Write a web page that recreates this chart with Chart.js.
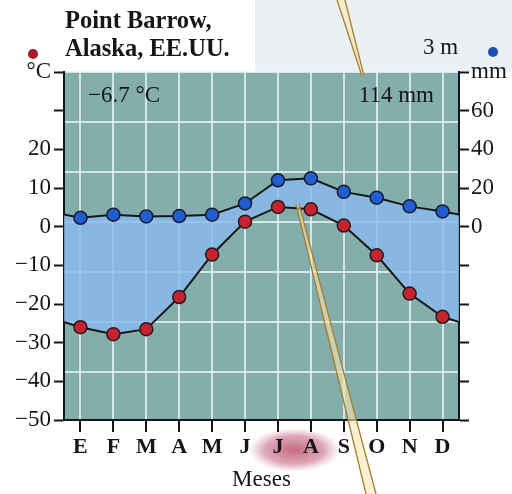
<!DOCTYPE html>
<html>
<head>
<meta charset="utf-8">
<script src="https://cdn.jsdelivr.net/npm/chart.js@4"></script>
<style>
  html, body { margin: 0; padding: 0; background: #fff; }
  canvas { display: block; }
</style>
</head>
<body>
<canvas id="chart" width="512" height="494"></canvas>
<script>
const SERIF = "'Liberation Serif', 'Times New Roman', serif";

// months, Spanish initials
const months = ['E', 'F', 'M', 'A', 'M', 'J', 'J', 'A', 'S', 'O', 'N', 'D'];
// mean monthly temperature, °C
const temp_c = [-26, -27.8, -26.5, -18.2, -7.2, 1.3, 5.1, 4.5, 0.3, -7.4, -17.3, -23.3];
// mean monthly precipitation, mm
const precip_mm = [4.6, 6.2, 5.3, 5.5, 6.2, 12, 24, 25, 18, 15, 10.5, 7.9];

const temp_ticks = [-50, -40, -30, -20, -10, 0, 10, 20, 30, 40];
const temp_tick_text = ['\u221250', '\u221240', '\u221230', '\u221220', '\u221210', '0', '10', '20', '', '\u00b0C'];
const mm_ticks = [-100, -80, -60, -40, -20, 0, 20, 40, 60, 80];
const mm_tick_text = ['', '', '', '', '', '0', '20', '40', '60', 'mm'];

const station = ['Point Barrow,', 'Alaska, EE.UU.'];
const altitude = '3 m';
const mean_temp = '\u22126.7 \u00b0C';
const total_precip = '114 mm';

const TEAL = '#84aeac';
const GRID = 'rgba(236,249,249,0.75)';
const INK = '#161616';

// wrap december before january and january after december so the
// lines run on to the plot edges like the original
function series(values) {
  let pts = [{x: 0, y: values[values.length - 1]}];
  values.forEach((v, i) => pts.push({x: i + 1, y: v}));
  pts.push({x: values.length + 1, y: values[0]});
  return pts;
}
function radii(values, r) {
  return [0].concat(values.map(() => r), [0]);
}

const decor = {
  id: 'decor',
  beforeDraw(chart) {
    const ctx = chart.ctx;
    const a = chart.chartArea;
    ctx.save();
    ctx.fillStyle = '#fff';
    ctx.fillRect(0, 0, chart.width, chart.height);
    ctx.fillStyle = '#ebf0f5';
    ctx.fillRect(255, 0, chart.width - 255, a.top);
    ctx.fillStyle = TEAL;
    ctx.fillRect(a.left, a.top, a.right - a.left, a.bottom - a.top);

    // pink highlight behind J A
    const x = chart.scales.x;
    const cx = (x.getPixelForValue(7) + x.getPixelForValue(8)) / 2;
    const cy = 450;
    ctx.translate(cx, cy);
    ctx.scale(2.1, 1);
    const g = ctx.createRadialGradient(0, 0, 2, 0, 0, 22);
    g.addColorStop(0, 'rgba(170,40,75,0.65)');
    g.addColorStop(0.6, 'rgba(180,60,95,0.45)');
    g.addColorStop(1, 'rgba(200,100,130,0)');
    ctx.fillStyle = g;
    ctx.beginPath();
    ctx.arc(0, 0, 22, 0, Math.PI * 2);
    ctx.fill();
    ctx.restore();
  },
  afterDraw(chart) {
    const ctx = chart.ctx;
    const a = chart.chartArea;
    ctx.save();
    ctx.fillStyle = INK;
    ctx.textBaseline = 'alphabetic';
    ctx.font = 'bold 24.5px ' + SERIF;
    ctx.fillText(station[0], 65, 28);
    ctx.fillText(station[1], 65, 56);

    ctx.font = '23px ' + SERIF;
    ctx.fillText(altitude, 423, 54);
    ctx.fillText(mean_temp, 88, 102);
    ctx.textAlign = 'right';
    ctx.fillText(total_precip, 434, 102);

    // series markers next to the axis units
    ctx.fillStyle = '#a51b2c';
    ctx.beginPath();
    ctx.arc(33, 54, 5, 0, Math.PI * 2);
    ctx.fill();
    ctx.fillStyle = '#1c50b8';
    ctx.beginPath();
    ctx.arc(493, 52, 5, 0, Math.PI * 2);
    ctx.fill();

    // the pointer lines running over the figure
    function pointer(x0a, x0b, y0, x1a, x1b, y1) {
      ctx.fillStyle = 'rgba(248,232,178,0.6)';
      ctx.beginPath();
      ctx.moveTo(x0a, y0);
      ctx.lineTo(x0b, y0);
      ctx.lineTo(x1b, y1);
      ctx.lineTo(x1a, y1);
      ctx.closePath();
      ctx.fill();
      ctx.strokeStyle = '#a87d2c';
      ctx.lineWidth = 1.3;
      ctx.beginPath();
      ctx.moveTo(x0a, y0);
      ctx.lineTo(x1a, y1);
      ctx.moveTo(x0b, y0);
      ctx.lineTo(x1b, y1);
      ctx.stroke();
    }
    pointer(337, 345, 0, 362, 364, a.top + 4);
    pointer(366, 376, chart.height, 296, 299, 204);
    ctx.restore();
  }
};

new Chart(document.getElementById('chart'), {
  type: 'line',
  data: {
    datasets: [{
      label: 'Temperatura',
      data: series(temp_c),
      yAxisID: 'y',
      borderColor: INK,
      borderWidth: 2,
      pointRadius: radii(temp_c, 6.5),
      pointBackgroundColor: '#c4232f',
      pointBorderColor: '#2a1a1a',
      pointBorderWidth: 1.5,
      tension: 0,
      fill: false,
      clip: 0
    }, {
      label: 'Precipitaci\u00f3n',
      data: series(precip_mm),
      yAxisID: 'y2',
      borderColor: INK,
      borderWidth: 2,
      pointRadius: radii(precip_mm, 6.5),
      pointBackgroundColor: '#1e5ed0',
      pointBorderColor: '#1a1a2a',
      pointBorderWidth: 1.5,
      backgroundColor: 'rgba(137,185,240,0.8)',
      tension: 0,
      fill: '-1',
      clip: 0
    }]
  },
  options: {
    responsive: false,
    devicePixelRatio: 1,
    animation: false,
    layout: { padding: { top: 72, left: 0, right: 0, bottom: 0 } },
    plugins: {
      legend: { display: false },
      tooltip: { enabled: false },
      filler: { propagate: false }
    },
    scales: {
      x: {
        type: 'linear',
        min: 0.5,
        max: 12.5,
        afterBuildTicks: s => { s.ticks = months.map((m, i) => ({value: i + 1})); },
        afterFit: s => { s.height = 74; },
        ticks: {
          callback: v => months[v - 1],
          autoSkip: false,
          maxRotation: 0,
          padding: 2,
          color: INK,
          font: { family: SERIF, size: 22, weight: 'bold' }
        },
        grid: { color: GRID, lineWidth: 2, tickColor: INK, tickLength: 12, tickWidth: 2 },
        border: { color: INK, width: 2 },
        title: {
          display: true,
          text: 'Meses',
          color: INK,
          font: { family: SERIF, size: 23 },
          padding: { top: 0, bottom: 0 }
        }
      },
      y: {
        position: 'left',
        min: -50,
        max: 40,
        afterBuildTicks: s => { s.ticks = temp_ticks.map(v => ({value: v})); },
        afterFit: s => { s.width = 64; },
        ticks: {
          callback: v => temp_tick_text[temp_ticks.indexOf(v)],
          padding: 3,
          color: INK,
          font: { family: SERIF, size: 23 }
        },
        grid: { drawOnChartArea: false, tickColor: INK, tickLength: 10, tickWidth: 2 },
        border: { color: INK, width: 2 }
      },
      g: {
        position: 'left',
        reverse: true,
        min: 0,
        max: 6.96,
        afterFit: s => { s.width = 0; },
        ticks: { display: false, stepSize: 1 },
        grid: { color: GRID, lineWidth: 2, drawTicks: false },
        border: { display: false }
      },
      y2: {
        position: 'right',
        min: -100,
        max: 80,
        afterBuildTicks: s => { s.ticks = mm_ticks.map(v => ({value: v})); },
        afterFit: s => { s.width = 53; },
        ticks: {
          callback: v => mm_tick_text[mm_ticks.indexOf(v)],
          padding: 2,
          color: INK,
          font: { family: SERIF, size: 23 }
        },
        grid: { drawOnChartArea: false, tickColor: INK, tickLength: 10, tickWidth: 2 },
        border: { color: INK, width: 2 }
      }
    }
  },
  plugins: [decor]
});
</script>
</body>
</html>
